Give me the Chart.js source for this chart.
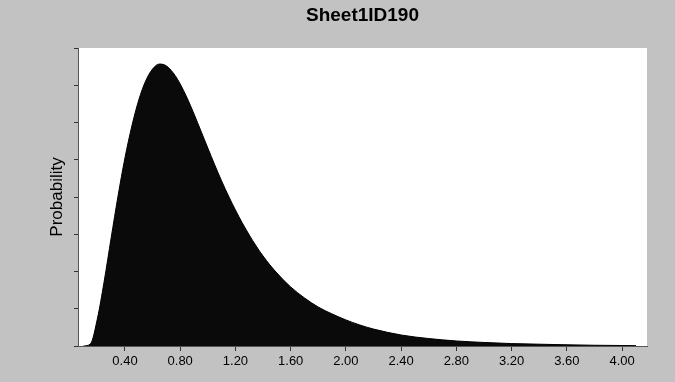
<!DOCTYPE html>
<html>
<head>
<meta charset="utf-8">
<script src="https://cdn.jsdelivr.net/npm/chart.js@4"></script>
<style>
  html, body { margin: 0; padding: 0; background: #c2c2c2; }
  #wrap { width: 675px; height: 382px; position: relative; }
</style>
</head>
<body>
<div id="wrap"><canvas id="c" width="675" height="382"></canvas></div>
<script>
// Data
const chartTitle = "Sheet1ID190";
const yTitle = "Probability";
const xValues = [0.10, 0.15, 0.20, 0.25, 0.30, 0.35, 0.40, 0.45, 0.50, 0.55, 0.60, 0.65, 0.70, 0.75, 0.80, 0.85, 0.90, 0.95, 1.00, 1.10, 1.20, 1.30, 1.40, 1.50, 1.60, 1.70, 1.80, 1.90, 2.00, 2.10, 2.20, 2.40, 2.60, 2.80, 3.00, 3.20, 3.50, 3.80, 4.10];
const probValues = [0, 0.011, 0.145, 0.349, 0.580, 0.806, 1.010, 1.181, 1.321, 1.423, 1.487, 1.514, 1.504, 1.466, 1.407, 1.332, 1.246, 1.155, 1.063, 0.886, 0.730, 0.596, 0.483, 0.392, 0.317, 0.258, 0.209, 0.172, 0.140, 0.113, 0.091, 0.059, 0.040, 0.027, 0.019, 0.013, 0.008, 0.004, 0.002];
const xTickValues = [0.40, 0.80, 1.20, 1.60, 2.00, 2.40, 2.80, 3.20, 3.60, 4.00];
const yTickValues = [0, 0.2, 0.4, 0.6, 0.8, 1.0, 1.2, 1.4, 1.6];

const points = xValues.map((x, i) => ({ x: x, y: probValues[i] }));

const bgPlugin = {
  id: 'bg',
  beforeDraw(chart) {
    const { ctx, chartArea: a } = chart;
    ctx.save();
    ctx.fillStyle = '#c2c2c2';
    ctx.fillRect(0, 0, chart.width, chart.height);
    ctx.fillStyle = '#ffffff';
    ctx.fillRect(a.left, a.top, a.right - a.left, a.bottom - a.top);
    ctx.restore();
  }
};

new Chart(document.getElementById('c'), {
  type: 'line',
  data: {
    datasets: [{
      data: points,
      borderColor: '#000000',
      backgroundColor: '#0a0a0a',
      borderWidth: 1,
      pointRadius: 0,
      fill: 'origin',
      cubicInterpolationMode: 'monotone'
    }]
  },
  plugins: [bgPlugin],
  options: {
    responsive: false,
    animation: false,
    layout: { padding: { left: 0, right: 28, top: 0, bottom: 0 } },
    plugins: {
      legend: { display: false },
      tooltip: { enabled: false },
      title: {
        display: true,
        fullSize: false,
        text: chartTitle,
        color: '#000',
        font: { family: 'Liberation Sans, Arial, sans-serif', size: 19, weight: 'bold', lineHeight: '24px' },
        padding: { top: 4, bottom: 20 }
      }
    },
    scales: {
      x: {
        type: 'linear',
        min: 0.06,
        max: 4.18,
        afterBuildTicks: axis => { axis.ticks = xTickValues.map(v => ({ value: v })); },
        afterFit: axis => { axis.height = 36; },
        grid: { drawOnChartArea: false, drawTicks: true, tickLength: 5, color: '#333' },
        border: { display: true, color: '#555', width: 1 },
        ticks: {
          color: '#000',
          padding: 3,
          maxRotation: 0,
          autoSkip: false,
          font: { family: 'Liberation Sans, Arial, sans-serif', size: 13 },
          callback: v => Number(v).toFixed(2)
        }
      },
      y: {
        type: 'linear',
        min: 0,
        max: 1.6,
        afterBuildTicks: axis => { axis.ticks = yTickValues.map(v => ({ value: v })); },
        afterFit: axis => { axis.width = 78; },
        grid: { drawOnChartArea: false, drawTicks: true, tickLength: 4, color: '#333' },
        border: { display: true, color: '#555', width: 1 },
        ticks: { display: false },
        title: {
          display: true,
          text: yTitle,
          color: '#000',
          font: { family: 'Liberation Sans, Arial, sans-serif', size: 17 },
          padding: { top: 47, bottom: 0 }
        }
      }
    }
  }
});
</script>
</body>
</html>
